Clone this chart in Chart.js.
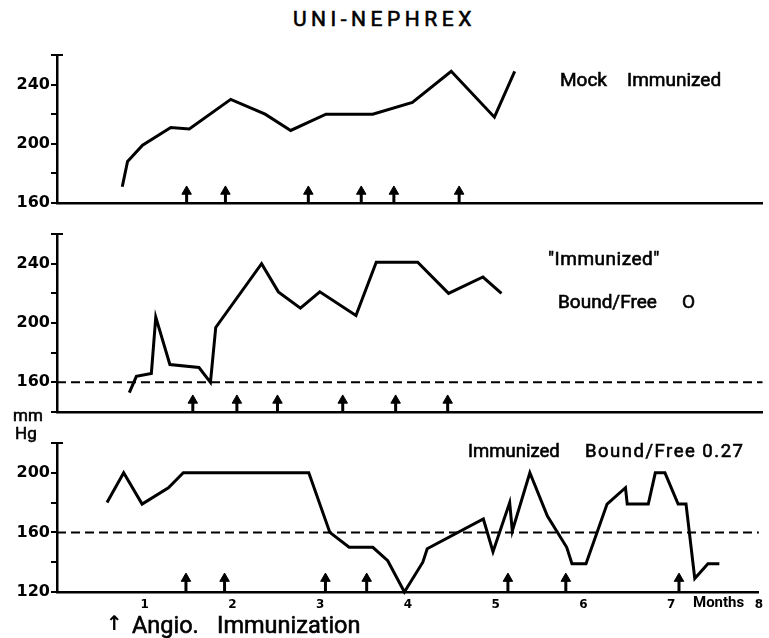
<!DOCTYPE html>
<html>
<head>
<meta charset="utf-8">
<script src="https://cdn.jsdelivr.net/npm/chart.js@4.4.1/dist/chart.umd.min.js"></script>
<style>
  body { margin: 0; background: #fff; }
  #fig { position: relative; width: 769px; height: 638px; background: #fff; overflow: hidden; }
  #fig canvas { position: absolute; left: 0; }
  .t { position: absolute; white-space: pre; line-height: 1; font-family: Roboto, sans-serif; color: #000; -webkit-text-stroke: 0.6px #000; }
</style>
</head>
<body>
<div id="fig">
  <canvas id="chartMock" width="769" height="172" style="top:43px"></canvas>
  <canvas id="chartZero" width="769" height="202" style="top:222px"></canvas>
  <canvas id="chartBound" width="769" height="191" style="top:431px"></canvas>

  <div class="t" style="left:293px;top:9px;font-size:21px;letter-spacing:4.5px">UNI-NEPHREX</div>

  <div class="t" style="left:560px;top:70px;font-size:19px">Mock</div>
  <div class="t" style="left:627px;top:70px;font-size:19px">Immunized</div>

  <div class="t" style="left:548px;top:249px;font-size:19px;letter-spacing:0.5px">"Immunized"</div>
  <div class="t" style="left:558px;top:292px;font-size:19px">Bound/Free</div>
  <div class="t" style="left:682px;top:292px;font-size:19px">O</div>

  <div class="t" style="left:468px;top:442px;font-size:18.5px">Immunized</div>
  <div class="t" style="left:585px;top:442px;font-size:18.5px;letter-spacing:1.5px">Bound/Free 0.27</div>

  <div class="t" style="left:13px;top:407px;font-size:17px">mm</div>
  <div class="t" style="left:15px;top:425px;font-size:17px">Hg</div>

  <div class="t" style="left:693px;top:595px;font-size:15px;font-weight:bold;-webkit-text-stroke:0">Months</div>

  <div class="t" style="left:106px;top:613px;font-size:20px;font-family:'DejaVu Sans';font-weight:bold;-webkit-text-stroke:0">↑</div>
  <div class="t" style="left:132px;top:614px;font-size:23.5px">Angio.</div>
  <div class="t" style="left:217px;top:614px;font-size:23.5px">Immunization</div>
</div>

<script>
// Mock immunized
var mockMonths = [0.74, 0.80, 0.97, 1.29, 1.50, 1.97, 2.36, 2.65, 3.05, 3.58, 4.03, 4.47, 4.96, 5.19]
var mockPressure = [171, 188, 199, 211, 210, 230, 220, 209, 220, 220, 228, 249, 218, 249]
var mockShots = [1.47, 1.91, 2.85, 3.45, 3.82, 4.56]

// "Immunized" bound/free 0
var zeroMonths = [0.82, 0.90, 1.07, 1.12, 1.28, 1.61, 1.74, 1.80, 2.32, 2.51, 2.76, 2.98, 3.39, 3.62, 4.09, 4.44, 4.83, 5.04]
var zeroPressure = [153, 164, 166, 204, 172, 170, 160, 197, 240, 221, 210, 221, 205, 241, 241, 220, 231, 220]
var zeroShots = [1.54, 2.04, 2.50, 3.24, 3.84, 4.43]

// Immunized bound/free 0.27
var boundMonths = [0.57, 0.76, 0.97, 1.27, 1.44, 2.87, 3.11, 3.33, 3.60, 3.77, 3.96, 4.17, 4.22, 4.86, 4.97, 5.16, 5.19, 5.39, 5.59, 5.81, 5.87, 6.03, 6.27, 6.48, 6.50, 6.74, 6.82, 6.93, 7.08, 7.17, 7.27, 7.42, 7.55]
var boundPressure = [180, 200, 179, 190, 200, 200, 160, 150, 150, 141, 120, 140, 149, 169, 147, 180, 161, 200, 171, 150, 139, 139, 179, 190, 179, 179, 200, 200, 179, 179, 129, 139, 139]
var boundShots = [1.47, 1.91, 3.06, 3.53, 5.14, 5.80, 7.09]

var monthTicks = [1, 2, 3, 4, 5, 6, 7, 8]
var normalLine = 160

// small cap at the top of each y axis
const axisCap = {
    id: 'axisCap',
    afterDraw(chart) {
        const ctx = chart.ctx
        const a = chart.chartArea
        ctx.save()
        ctx.strokeStyle = '#000'
        ctx.lineWidth = 2
        ctx.beginPath()
        ctx.moveTo(a.left - 1, a.top)
        ctx.lineTo(a.left + 6, a.top)
        ctx.stroke()
        ctx.restore()
    }
}

function makePanel(canvasId, months, values, shots, yMin, yMax, headValue, showMonths) {
    const pontos = months.map((m, i) => ({ x: m, y: values[i] }))

    const hastes = []
    shots.forEach(m => {
        hastes.push({ x: m, y: yMin })
        hastes.push({ x: m, y: headValue })
        hastes.push({ x: m, y: null })
    })

    const pontas = shots.map(m => ({ x: m, y: headValue }))

    return new Chart(document.getElementById(canvasId), {
        type: 'line',
        data: {
            datasets: [{
                data: pontos,
                borderColor: '#000',
                borderWidth: 3,
                pointRadius: 0,
                tension: 0,
                clip: 6
            }, {
                data: [{ x: 0, y: normalLine }, { x: 8, y: normalLine }],
                borderColor: '#000',
                borderWidth: 2,
                borderDash: [9, 5],
                pointRadius: 0,
                clip: 6
            }, {
                data: hastes,
                borderColor: '#000',
                borderWidth: 3,
                pointRadius: 0,
                spanGaps: false,
                clip: 6
            }, {
                data: pontas,
                showLine: false,
                pointStyle: 'triangle',
                pointRadius: 5.5,
                pointBackgroundColor: '#000',
                pointBorderColor: '#000',
                pointBorderWidth: 1,
                clip: 10
            }]
        },
        options: {
            responsive: false,
            animation: false,
            devicePixelRatio: 1,
            layout: { padding: { top: 12, left: 0, right: 2, bottom: 0 } },
            plugins: {
                legend: { display: false },
                tooltip: { enabled: false }
            },
            scales: {
                x: {
                    type: 'linear',
                    min: 0,
                    max: 8,
                    afterFit: scale => { scale.height = showMonths ? 30 : 12 },
                    afterBuildTicks: scale => {
                        scale.ticks = showMonths ? monthTicks.map(v => ({ value: v })) : []
                    },
                    border: { display: true, color: '#000', width: 2.5 },
                    grid: { display: true, drawOnChartArea: false, drawTicks: false },
                    ticks: {
                        display: showMonths,
                        autoSkip: false,
                        maxRotation: 0,
                        padding: 6,
                        color: '#000',
                        font: { family: 'DejaVu Sans', size: 12, weight: 'bold' }
                    }
                },
                y: {
                    min: yMin,
                    max: yMax,
                    afterFit: scale => { scale.width = 57 },
                    border: { display: true, color: '#000', width: 2.5 },
                    grid: { drawOnChartArea: false, drawTicks: true, tickLength: 6, color: '#000', lineWidth: 2 },
                    ticks: {
                        stepSize: 20,
                        padding: 1,
                        color: '#000',
                        font: { family: 'DejaVu Sans', size: 16, weight: 'bold' },
                        callback: v => ((v - 120) % 40 === 0 ? v : '')
                    }
                }
            }
        },
        plugins: [axisCap]
    })
}

document.addEventListener('DOMContentLoaded', () => {
    makePanel('chartMock', mockMonths, mockPressure, mockShots, 160, 260, 167.8, false)
    makePanel('chartZero', zeroMonths, zeroPressure, zeroShots, 140, 260, 147.8, false)
    makePanel('chartBound', boundMonths, boundPressure, boundShots, 120, 220, 129, true)
})
</script>
</body>
</html>
